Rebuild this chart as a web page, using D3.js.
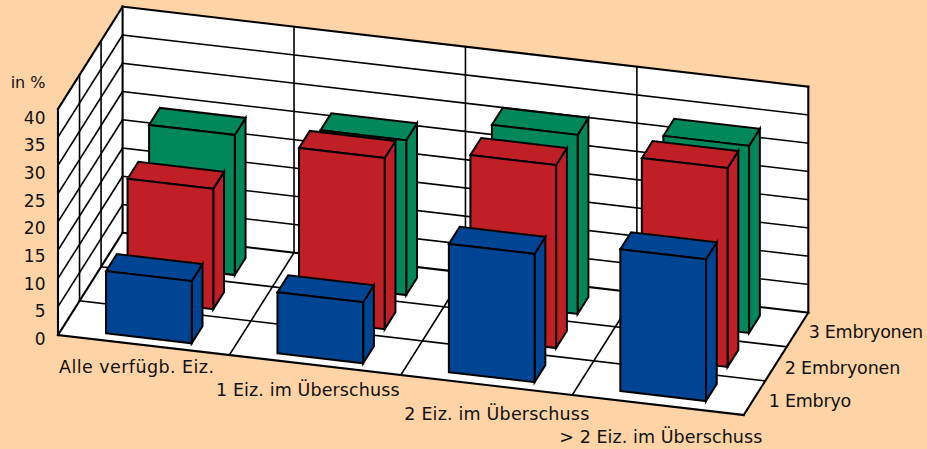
<!DOCTYPE html>
<html><head><meta charset="utf-8">
<script src="https://cdn.jsdelivr.net/npm/d3@7"></script>
<style>
html,body{margin:0;padding:0;background:#FED3A5;overflow:hidden}
text{font-family:"DejaVu Sans",sans-serif;font-size:17.5px;fill:#111}
.tick{font-size:17px}
.unit{font-size:16px}
</style></head><body>
<svg id="c" width="927" height="449"></svg>
<script>
const categories = ["Alle verfügb. Eiz.","1 Eiz. im Überschuss","2 Eiz. im Überschuss","> 2 Eiz. im Überschuss"];
const seriesNames = ["1 Embryo","2 Embryonen","3 Embryonen"];
const embryo1 = [11.0,10.8,22.7,25.1];
const embryo2 = [21.3,30.3,32.4,35.2];
const embryo3 = [24.8,27.4,31.7,33.1];
const valueTicks = [0,5,10,15,20,25,30,35,40];
const seriesValues = [embryo1,embryo2,embryo3];
const seriesColors = ["#004494","#C01F26","#00885A"];

const svg = d3.select("#c");
// oblique projection built from linear scales
const cx = d3.scaleLinear([0,4],[0,685.7]);
const cy = d3.scaleLinear([0,4],[0,80]);
const sx = d3.scaleLinear([0,3],[0,64.6]);
const sy = d3.scaleLinear([0,3],[0,-102.3]);
const vy = d3.scaleLinear([0,40],[0,-226]);
const P = (c,s,v)=>[58+cx(c)+sx(s), 335+cy(c)+sy(s)+vy(v)];
// bars sit slightly higher toward the right of the floor
const lift = d3.scaleLinear([1,3],[0,-2.2]).clamp(true);
const B = (ci,c,s,v)=>{const p=P(c,s,v);return [p[0],p[1]+lift(ci)];};
const poly = pts => "M"+pts.map(p=>p.map(n=>n.toFixed(2)).join(",")).join("L")+"Z";
const seg = (g,a,b,w)=>g.append("line").attr("x1",a[0]).attr("y1",a[1]).attr("x2",b[0]).attr("y2",b[1])
  .attr("stroke","#000").attr("stroke-width",w).attr("stroke-linecap","square");

const gW = svg.append("g");
const faces = [
  [P(0,0,0),P(4,0,0),P(4,3,0),P(0,3,0)],
  [P(0,3,0),P(4,3,0),P(4,3,40),P(0,3,40)],
  [P(0,0,0),P(0,3,0),P(0,3,40),P(0,0,40)]
];
gW.selectAll("path").data(faces).join("path").attr("d",poly).attr("fill","#fff");

const GW=1.6, AW=2.1;
valueTicks.slice(1,-1).forEach(v=>{
  seg(gW,P(0,3,v),P(4,3,v),GW);
  seg(gW,P(0,0,v),P(0,3,v),GW);
});
d3.range(1,4).forEach(c=>{
  seg(gW,P(c,0,0),P(c,3,0),GW);
  seg(gW,P(c,3,0),P(c,3,40),GW);
});
d3.range(1,3).forEach(s=>{
  seg(gW,P(0,s,0),P(4,s,0),GW);
  seg(gW,P(0,s,0),P(0,s,40),GW);
});
// frame
[[P(0,0,0),P(4,0,0)],[P(4,0,0),P(4,3,0)],[P(4,3,0),P(4,3,40)],[P(4,3,40),P(0,3,40)],
 [P(0,3,40),P(0,0,40)],[P(0,0,40),P(0,0,0)],[P(0,0,0),P(0,3,0)],[P(0,3,0),P(0,3,40)],[P(0,3,0),P(4,3,0)]]
 .forEach(([a,b])=>seg(gW,a,b,AW));

// bars, back to front
const bw = 0.5, c0 = 0.255, s0 = 0.2, sd = 0.5;
const gB = svg.append("g");
d3.range(2,-1,-1).forEach(si=>{
  seriesValues[si].forEach((v,ci)=>{
    const a=ci+c0,b=a+bw,f=si+s0,k=f+sd;
    const g=gB.append("g").attr("fill",seriesColors[si]).attr("stroke","#000")
      .attr("stroke-width",2).attr("stroke-linejoin","miter");
    g.append("path").attr("d",poly([B(ci,b,f,0),B(ci,b,k,0),B(ci,b,k,v),B(ci,b,f,v)]));
    g.append("path").attr("d",poly([B(ci,a,f,v),B(ci,b,f,v),B(ci,b,k,v),B(ci,a,k,v)]));
    g.append("path").attr("d",poly([B(ci,a,f,0),B(ci,b,f,0),B(ci,b,f,v),B(ci,a,f,v)]));
  });
});

// labels
const labelY = d3.scaleLinear([0,40],[339,117.7]);
svg.append("g").selectAll("text").data(valueTicks).join("text").attr("class","tick")
  .attr("x",45.5).attr("y",d=>labelY(d)).attr("dy","0.36em").attr("text-anchor","end").text(d=>d);
svg.append("text").attr("class","unit").attr("x",45.5).attr("y",82).attr("dy","0.36em")
  .attr("text-anchor","end").text("in %");

const catLabelX = [59,216,404.3,559.3];
const catLabelW = [155,183.5,185,203];
const catLabelY = [367,390,413.5,437];
svg.append("g").selectAll("text").data(categories).join("text")
  .attr("x",(d,i)=>catLabelX[i]).attr("y",(d,i)=>catLabelY[i]).attr("dy","0.36em")
  .attr("textLength",(d,i)=>catLabelW[i]).attr("lengthAdjust","spacing").text(d=>d);
const serLabelX = [768.7,784.7,808.7];
const serLabelW = [82.6,115.6,114.3];
const serLabelY = [401,368,332];
svg.append("g").selectAll("text").data(seriesNames).join("text")
  .attr("x",(d,i)=>serLabelX[i]).attr("y",(d,i)=>serLabelY[i]).attr("dy","0.36em")
  .attr("textLength",(d,i)=>serLabelW[i]).attr("lengthAdjust","spacing").text(d=>d);
</script></body></html>
